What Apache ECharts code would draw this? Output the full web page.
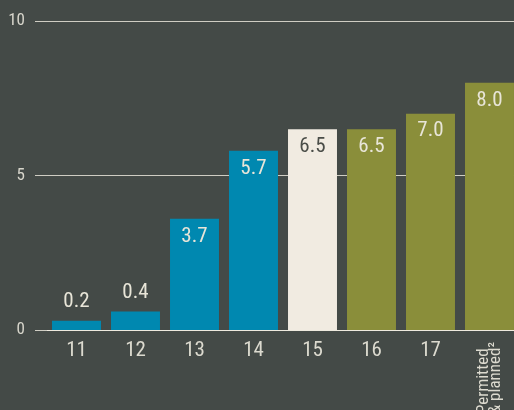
<!DOCTYPE html>
<html>
<head>
<meta charset="utf-8">
<style>
  html, body { margin: 0; padding: 0; background: #444a47; }
  #chart { width: 514px; height: 410px; }
</style>
<script src="https://cdn.jsdelivr.net/npm/echarts@6/dist/echarts.min.js"></script>
</head>
<body>
<div id="chart"></div>
<script>
// categories along the x axis (last one is drawn rotated)
var categories = ['11', '12', '13', '14', '15', '16', '17', 'Permitted\n& planned²'];
// bar heights as drawn
var barValues = [0.3, 0.6, 3.6, 5.8, 6.5, 6.5, 7.0, 8.0];
// printed value labels
var valueLabels = ['0.2', '0.4', '3.7', '5.7', '6.5', '6.5', '7.0', '8.0'];
// colour group of each bar
var groups = ['a', 'a', 'a', 'a', 'b', 'c', 'c', 'c'];
var yTicks = [0, 5, 10];

(function () {
  var FONT = "'Liberation Sans Narrow', 'Roboto Condensed', 'DejaVu Sans Condensed', sans-serif";
  var colorOf = { a: '#0088b0', b: '#f1ebe1', c: '#8a8e3a' };
  var lineColor = '#cfcdc3';
  var myChart = echarts.init(document.getElementById('chart'));

  var data = barValues.map(function (v, i) {
    var small = v < 1;
    return {
      value: v,
      itemStyle: { color: colorOf[groups[i]] },
      label: {
        position: small ? 'top' : 'insideTop',
        distance: small ? 8 : 7,
        color: groups[i] == 'b' ? '#4a4d48' : '#e8e5d8'
      }
    };
  });

  var option = {
    backgroundColor: '#444a47',
    animation: false,
    grid: { left: 47, top: 21, width: 472, bottom: 80, outerBoundsMode: 'none', containLabel: false },
    xAxis: [{
      type: 'category',
      data: categories,
      axisLine: { show: true, lineStyle: { color: '#efeadf', width: 1 } },
      axisTick: { show: false },
      axisLabel: {
        margin: 10,
        fontFamily: FONT, fontSize: 21, color: '#dcdacf',
        formatter: function (v, i) { return i == categories.length - 1 ? '' : v; }
      }
    }, {
      type: 'category',
      position: 'bottom',
      data: categories,
      axisLine: { show: false },
      axisTick: { show: false },
      axisLabel: {
        rotate: 90,
        margin: 12,
        interval: 0,
        fontFamily: FONT, fontSize: 17, color: '#dcdacf', lineHeight: 12,
        formatter: function (v, i) {
          if (i != categories.length - 1) return '';
          return v.split('\n').map(function (s) { return '{a|' + s + '}'; }).join('\n');
        },
        rich: { a: { align: 'left', fontFamily: FONT, fontSize: 17, color: '#dcdacf', lineHeight: 12 } }
      }
    }],
    yAxis: {
      type: 'value',
      min: yTicks[0],
      max: yTicks[yTicks.length - 1],
      interval: yTicks[1] - yTicks[0],
      axisLine: { show: false },
      axisTick: { show: true, length: 12, lineStyle: { color: lineColor, width: 1 } },
      splitLine: { show: true, lineStyle: { color: lineColor, width: 1 } },
      axisLabel: { margin: 22, fontFamily: FONT, fontSize: 17, color: '#d8d6cc' }
    },
    series: [{
      type: 'bar',
      xAxisIndex: 0,
      data: data,
      barCategoryGap: '17%',
      label: {
        show: true,
        fontFamily: FONT,
        fontSize: 21,
        formatter: function (p) { return valueLabels[p.dataIndex]; }
      }
    }]
  };

  myChart.setOption(option);
  window.addEventListener('resize', function () {
    myChart.resize();
  });
})();
</script>
</body>
</html>
